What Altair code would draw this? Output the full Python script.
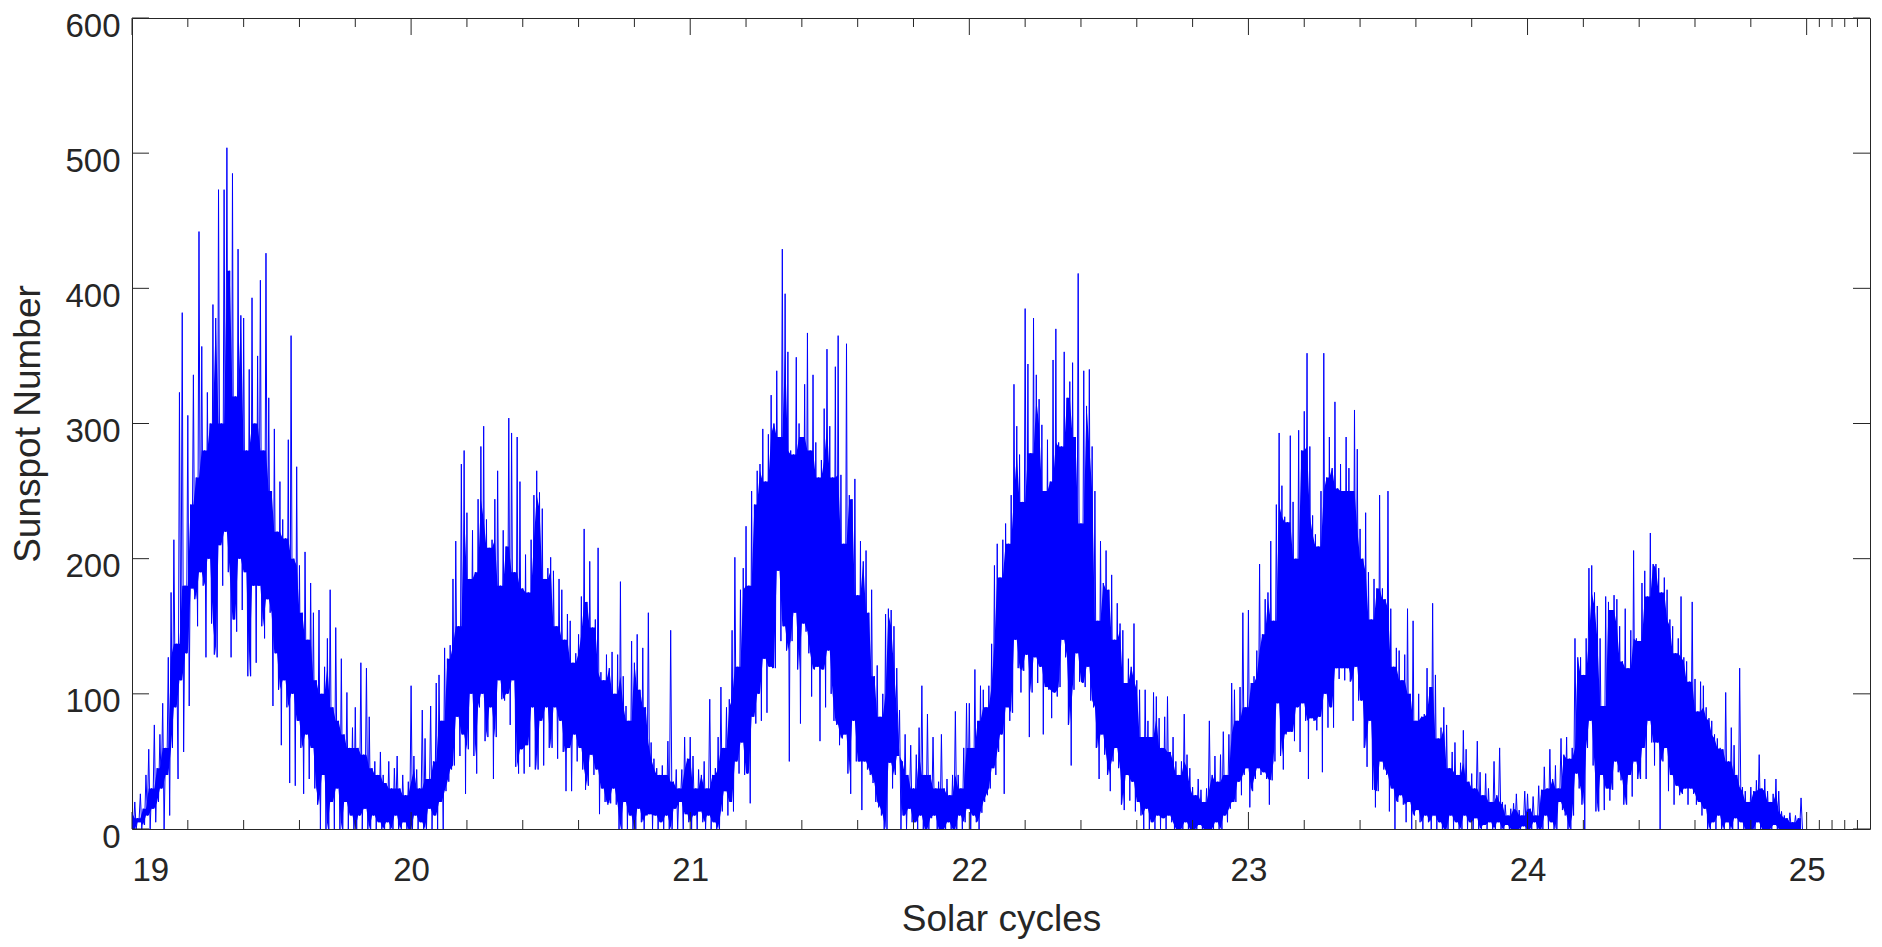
import altair as alt
import pandas as pd

# ---- data read from the picture (daily sunspot number, sampled every 0.01 cycle:
#      one local maximum and one local minimum per sample step) ----
cycles = [19, 20, 21, 22, 23, 24]

peaks_19 = [12, 20, 8, 26, 15, 40, 59, 30, 77, 45, 70, 93, 60, 127, 175,
            214, 137, 323, 382, 180, 306, 240, 336, 260, 442, 357, 280, 323, 300, 388,
            378, 473, 300, 473, 504, 413, 485, 320, 429, 380, 378, 280, 340, 393, 300,
            350, 406, 280, 426, 319, 250, 296, 220, 257, 229, 215, 288, 365, 200, 268,
            195, 160, 205, 140, 182, 160, 110, 162, 100, 120, 141, 177, 90, 149, 80,
            126, 70, 101, 60, 75, 90, 60, 123, 55, 119, 83, 45, 50, 40, 57,
            40, 34, 50, 30, 45, 54, 30, 40, 25, 35]
dips_19 = [0, 0, 5, 0, 3, 10, 0, 15, 5, 20, 30, 0, 40, 10, 60,
           90, 37, 110, 57, 130, 91, 178, 170, 150, 190, 180, 127, 200, 152, 129,
           127, 210, 180, 220, 190, 127, 155, 146, 200, 162, 190, 113, 113, 180, 123,
           180, 150, 141, 170, 160, 91, 130, 103, 62, 110, 90, 34, 100, 32, 80,
           60, 26, 70, 37, 60, 30, 18, 0, 40, 0, 0, 20, 0, 30, 0,
           0, 20, 0, 10, 0, 0, 10, 0, 15, 0, 0, 10, 0, 5, 0,
           0, 5, 0, 0, 10, 0, 0, 5, 0, 0]

peaks_20 = [106, 54, 44, 30, 88, 67, 37, 91, 50, 108, 114, 80, 134, 126, 136,
            185, 213, 150, 270, 280, 234, 185, 221, 190, 244, 283, 298, 229, 208, 214,
            244, 265, 180, 221, 209, 304, 293, 190, 290, 257, 178, 203, 175, 214, 247,
            265, 249, 237, 185, 193, 201, 191, 150, 185, 177, 140, 159, 154, 123, 130,
            144, 172, 222, 168, 198, 149, 155, 208, 116, 110, 129, 119, 131, 100, 129,
            183, 113, 91, 80, 139, 123, 144, 103, 134, 90, 160, 64, 52, 45, 40,
            47, 40, 65, 147, 35, 44, 30, 44, 68, 52]
dips_20 = [0, 10, 0, 5, 0, 0, 15, 0, 10, 0, 20, 0, 28, 35, 44,
           47, 83, 54, 70, 26, 59, 100, 54, 41, 90, 100, 65, 68, 90, 37,
           68, 110, 96, 95, 100, 77, 110, 46, 41, 59, 41, 62, 46, 90, 44,
           44, 80, 47, 90, 60, 60, 90, 52, 80, 57, 28, 60, 28, 70, 50,
           60, 44, 29, 32, 55, 40, 44, 11, 30, 20, 18, 19, 30, 18, 0,
           0, 20, 0, 10, 0, 0, 15, 5, 0, 10, 11, 0, 10, 0, 5,
           0, 10, 0, 0, 15, 0, 20, 0, 11, 5]

peaks_21 = [68, 54, 30, 44, 40, 50, 30, 96, 40, 45, 68, 105, 60, 90, 96,
            147, 201, 120, 177, 193, 224, 180, 250, 240, 265, 270, 296, 257, 292, 321,
            300, 339, 290, 429, 396, 353, 280, 277, 349, 300, 290, 329, 367, 280, 336,
            286, 260, 273, 311, 355, 298, 260, 342, 365, 262, 211, 359, 247, 244, 259,
            173, 213, 198, 206, 160, 177, 113, 121, 83, 100, 159, 163, 162, 150, 119,
            88, 50, 70, 40, 62, 30, 55, 75, 106, 40, 85, 40, 68, 30, 35,
            70, 30, 37, 25, 40, 87, 40, 30, 60, 93]
dips_21 = [0, 10, 0, 13, 5, 0, 10, 0, 5, 0, 0, 13, 28, 10, 20,
           13, 50, 41, 64, 40, 41, 19, 83, 78, 100, 80, 126, 86, 120, 119,
           119, 191, 139, 150, 132, 50, 139, 160, 118, 78, 152, 146, 130, 98, 118,
           120, 65, 118, 90, 132, 100, 80, 77, 62, 67, 70, 41, 26, 80, 50,
           50, 14, 50, 44, 40, 34, 20, 16, 10, 0, 0, 49, 30, 40, 54,
           0, 10, 0, 15, 5, 5, 0, 10, 0, 0, 0, 8, 10, 0, 0,
           0, 0, 5, 0, 0, 0, 10, 0, 5, 15]

peaks_22 = [93, 60, 118, 80, 106, 103, 90, 106, 137, 195, 211, 186, 214, 226, 211,
            247, 329, 298, 277, 242, 385, 344, 278, 378, 336, 318, 299, 250, 288, 257,
            347, 370, 286, 283, 353, 319, 331, 345, 290, 411, 226, 339, 313, 340, 283,
            250, 154, 213, 182, 206, 177, 188, 140, 167, 152, 147, 108, 126, 120, 152,
            110, 103, 68, 103, 80, 68, 101, 98, 82, 60, 83, 98, 57, 68, 50,
            40, 50, 85, 55, 45, 31, 25, 37, 29, 20, 30, 80, 40, 54, 35,
            55, 72, 40, 70, 108, 103, 80, 105, 160, 90]
dips_22 = [0, 10, 5, 0, 12, 20, 25, 30, 45, 40, 57, 70, 26, 90, 80,
           86, 140, 119, 101, 117, 129, 68, 101, 127, 108, 120, 70, 105, 103, 82,
           101, 98, 105, 140, 127, 77, 47, 103, 130, 109, 108, 105, 120, 95, 90,
           60, 37, 70, 55, 40, 28, 50, 60, 45, 18, 14, 40, 21, 35, 13,
           20, 10, 0, 15, 0, 5, 0, 10, 0, 8, 0, 10, 5, 0, 0,
           0, 0, 5, 0, 0, 0, 0, 3, 0, 0, 0, 0, 0, 5, 0,
           0, 10, 5, 15, 20, 20, 35, 25, 40, 45]

peaks_23 = [162, 108, 113, 132, 196, 144, 170, 175, 213, 154, 240, 293, 254, 231, 227,
            291, 242, 200, 295, 280, 309, 352, 283, 232, 218, 209, 250, 352, 260, 290,
            267, 316, 252, 270, 250, 290, 267, 250, 310, 281, 222, 200, 234, 190, 155,
            185, 178, 247, 178, 170, 250, 163, 120, 134, 132, 110, 129, 163, 100, 154,
            80, 100, 83, 85, 119, 105, 167, 114, 67, 75, 90, 77, 45, 57, 64,
            40, 49, 73, 59, 35, 41, 30, 65, 42, 25, 41, 30, 20, 50, 25,
            60, 20, 18, 10, 15, 19, 26, 14, 10, 28]
dips_23 = [16, 28, 37, 45, 40, 42, 37, 18, 36, 50, 93, 54, 44, 70, 72,
           72, 65, 90, 57, 93, 80, 37, 82, 80, 73, 83, 42, 100, 75, 90,
           75, 119, 111, 119, 110, 119, 109, 80, 120, 95, 95, 60, 46, 80, 29,
           16, 28, 50, 44, 40, 13, 30, 0, 20, 25, 18, 5, 20, 0, 10,
           14, 5, 0, 10, 5, 0, 10, 0, 5, 0, 0, 0, 10, 0, 5,
           0, 0, 10, 0, 5, 0, 8, 0, 0, 3, 0, 5, 0, 0, 5,
           0, 0, 3, 0, 0, 0, 0, 0, 2, 0]

peaks_24 = [26, 15, 24, 10, 32, 29, 46, 30, 59, 37, 47, 30, 67, 55, 68,
            52, 60, 141, 127, 127, 114, 141, 193, 195, 175, 165, 141, 91, 172, 168,
            162, 173, 170, 150, 124, 163, 119, 147, 206, 141, 139, 182, 191, 172, 219,
            196, 196, 193, 175, 186, 177, 155, 150, 130, 141, 172, 127, 124, 109, 168,
            111, 87, 109, 106, 90, 82, 80, 70, 67, 60, 59, 101, 50, 75, 62,
            40, 119, 31, 28, 20, 31, 28, 36, 55, 30, 37, 28, 20, 26, 37,
            28, 13, 10, 8, 12, 5, 10, 8, 23]
dips_24 = [0, 0, 5, 0, 0, 0, 10, 0, 5, 0, 0, 20, 14, 10, 0,
           0, 10, 41, 30, 18, 0, 60, 80, 47, 13, 13, 40, 14, 30, 21,
           29, 50, 42, 36, 18, 18, 40, 24, 50, 37, 37, 60, 37, 80, 64,
           47, 64, 0, 50, 60, 28, 40, 18, 32, 25, 26, 30, 18, 30, 26,
           18, 20, 10, 15, 0, 0, 5, 0, 10, 0, 0, 5, 0, 0, 8,
           0, 5, 0, 0, 0, 0, 0, 5, 0, 0, 0, 0, 0, 3, 0,
           0, 0, 0, 0, 0, 0, 0, 0, 0]

major_x = [19, 20, 21, 22, 23, 24, 25]
minor_x = [19.2, 19.4, 19.6, 19.8, 20.2, 20.4, 20.6, 20.8, 21.2, 21.4, 21.6, 21.8,
           22.2, 22.4, 22.6, 22.8, 23.2, 23.4, 23.6, 23.8, 24.2, 24.4, 24.6, 24.8,
           25.0455, 25.091, 25.1365, 25.182]
y_ticks = [0, 100, 200, 300, 400, 500, 600]

# ---- build tables ----
peaks = [peaks_19, peaks_20, peaks_21, peaks_22, peaks_23, peaks_24]
dips = [dips_19, dips_20, dips_21, dips_22, dips_23, dips_24]
rows, samples = [], []
for c, pk, dp in zip(cycles, peaks, dips):
    for i, (p, d) in enumerate(zip(pk, dp)):
        rows.append({"x": c + 0.01 * i, "y": p})
        rows.append({"x": c + 0.01 * i + 0.005, "y": d})
        samples.append({"x": c + 0.01 * i, "peak": p, "dip": d})
df = pd.DataFrame(rows)
sdf = pd.DataFrame(samples)

W, H = 1738, 811
INK = "#262626"
FONT = "Liberation Sans"
BLUE = "#0000ff"

xs = alt.Scale(domain=[19, 25.227], nice=False, zero=False)
ys = alt.Scale(domain=[0, 600], nice=False, zero=True)

x_axis = alt.Axis(
    values=major_x, format="d", ticks=False, tickSize=0, domain=False, grid=False,
    labelFont=FONT, labelFontSize=33, labelColor=INK, labelPadding=25,
    title="Solar cycles", titleFont=FONT, titleFontSize=37, titleFontWeight="normal",
    titleColor=INK, titleX=W / 2, titleY=101, titleAlign="center",
    titleBaseline="alphabetic")
y_axis = alt.Axis(
    values=y_ticks, format="d", ticks=False, tickSize=0, domain=False, grid=False,
    labelFont=FONT, labelFontSize=33, labelColor=INK, labelPadding=12, labelOffset=8,
    title="Sunspot Number", titleFont=FONT, titleFontSize=37, titleFontWeight="normal",
    titleColor=INK, titleX=-93, titleY=H / 2, titleAlign="center",
    titleBaseline="alphabetic", titleAngle=270)

X = alt.X("x:Q", scale=xs, axis=x_axis, title="Solar cycles")
Y = alt.Y("y:Q", scale=ys, axis=y_axis, title="Sunspot Number")

# dense core: between the local minima flanking each maximum and the lower of
# the neighbouring local maxima
core = alt.Chart(sdf).transform_window(
    core_hi="min(peak)", frame=[-1, 1], sort=[{"field": "x"}]
).transform_window(
    core_lo="max(dip)", frame=[-1, 0], sort=[{"field": "x"}]
).transform_calculate(
    y="datum.core_lo", y2="max(datum.core_lo, datum.core_hi)"
).mark_area(color=BLUE, opacity=1, clip=True).encode(x=X, y=Y, y2="y2:Q")

line = alt.Chart(df).mark_line(color=BLUE, strokeWidth=1, clip=True).encode(x=X, y=Y)

maj_df = pd.DataFrame({"x": major_x})
min_df = pd.DataFrame({"x": minor_x})
yt_df = pd.DataFrame({"y": y_ticks})


def xtick(data, y0, y1):
    return alt.Chart(data).mark_rule(color=INK, strokeWidth=1).encode(
        x=X, y=alt.value(y0), y2=alt.value(y1))


def ytick(x0, x1):
    return alt.Chart(yt_df).mark_rule(color=INK, strokeWidth=1).encode(
        y=Y, x=alt.value(x0), x2=alt.value(x1))


chart = alt.layer(
    core, line,
    xtick(maj_df, H, H - 17), xtick(maj_df, 0, 17),
    xtick(min_df, H, H - 9), xtick(min_df, 0, 9),
    ytick(0, 17), ytick(W, W - 17),
).properties(
    width=W, height=H,
    autosize=alt.AutoSizeParams(type="none"),
    padding={"left": 132, "top": 18, "right": 12, "bottom": 118},
    background="white",
).configure_view(stroke=INK, strokeWidth=1)

chart.save("out.html", embed_options={"renderer": "svg", "actions": False})
